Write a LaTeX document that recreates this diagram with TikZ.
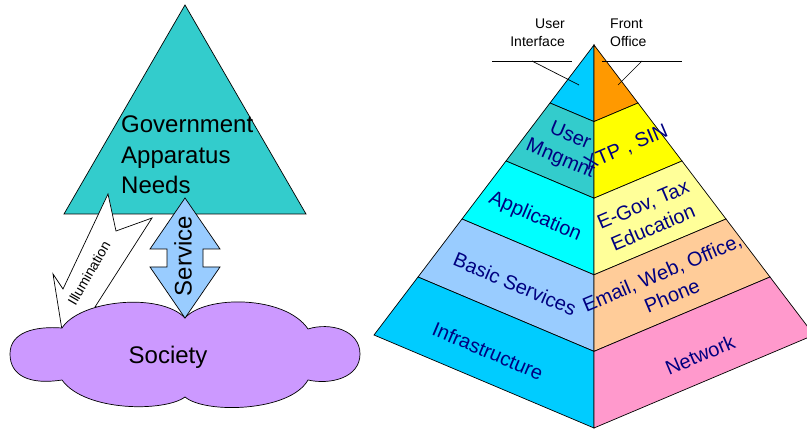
\documentclass[tikz,border=0pt]{standalone}
\usepackage{fontspec}
\setmainfont{Liberation Sans}
\definecolor{tealc}{HTML}{33CCCC}
\definecolor{servc}{HTML}{99CCFF}
\definecolor{lavc}{HTML}{CC99FF}
\definecolor{skyc}{HTML}{00CCFF}
\definecolor{cyanc}{HTML}{00FFFF}
\definecolor{orangec}{HTML}{FF9900}
\definecolor{yellowc}{HTML}{FFFF00}
\definecolor{lyellowc}{HTML}{FFFF99}
\definecolor{peachc}{HTML}{FFCC99}
\definecolor{pinkc}{HTML}{FF99CC}
\definecolor{navyc}{HTML}{000080}
\begin{document}
\begin{tikzpicture}[x=1pt,y=-1pt,
  outl/.style={draw=black, line width=0.7pt, line join=miter},
  bigtxt/.style={font=\fontsize{24}{29}\selectfont, inner sep=0pt},
  layertxt/.style={font=\fontsize{20}{25}\selectfont, text=navyc, align=center, inner sep=0pt},
  smalltxt/.style={font=\fontsize{14}{17}\selectfont, inner sep=0pt},
  callout/.style={draw=black, line width=0.7pt}]
\useasboundingbox (0,0) rectangle (807,430);

% ---------------- left part ----------------
\coordinate (tA) at (185,5);
\coordinate (tB) at (306,214);
\coordinate (tC) at (64,214);
\filldraw[outl, fill=tealc] (tA) -- (tB) -- (tC) -- cycle;
\node[bigtxt, anchor=base west] (gov1) at (121,133) {Government};
\node[bigtxt, anchor=base west] (gov2) at (121,163.5) {Apparatus};
\node[bigtxt, anchor=base west] (gov3) at (121,193.5) {Needs};

% Illumination arrow
\filldraw[outl, fill=white] (108,194) -- (116,231) -- (152,218) -- (95,307) -- (113,308)
  -- (62,330) -- (53,274) -- (63,289) -- cycle;
\node[smalltxt, rotate=60] (illum) at (89,273) {Illumination};

% Society cloud
\filldraw[outl, fill=lavc]
  (62,380) .. controls (30,385) and (10,376) .. (10,354)
  .. controls (10,332) and (35,326) .. (62,328)
  .. controls (80,300) and (160,292) .. (185,318)
  .. controls (205,295) and (285,295) .. (308,329)
  .. controls (330,322) and (360,330) .. (360,354)
  .. controls (360,378) and (330,385) .. (308,380)
  .. controls (290,412) and (205,414) .. (185,397)
  .. controls (165,412) and (85,412) .. (62,380) -- cycle;
\node[bigtxt, anchor=base] (society) at (168,364) {Society};

% Service double arrow
\filldraw[outl, fill=servc] (185,198) -- (220,249) -- (203,249) -- (203,267) -- (220,267)
  -- (185,318) -- (150,267) -- (167,267) -- (167,249) -- (150,249) -- cycle;
\node[bigtxt, rotate=90] (service) at (183,256) {Service};

% ---------------- pyramid ----------------
\coordinate (A) at (594,45);
\coordinate (L1) at (550,103);  \coordinate (C1) at (594,121.6); \coordinate (R1) at (638,103);
\coordinate (L2) at (506,161);  \coordinate (C2) at (594,198.2); \coordinate (R2) at (682,161);
\coordinate (L3) at (462,219);  \coordinate (C3) at (594,274.8); \coordinate (R3) at (726,219);
\coordinate (L4) at (418,277);  \coordinate (C4) at (594,351.4); \coordinate (R4) at (770,277);
\coordinate (L5) at (374,335);  \coordinate (C5) at (594,428);   \coordinate (R5) at (814,335);

\filldraw[outl, fill=skyc] (A) -- (L1) -- (C1) -- cycle;
\filldraw[outl, fill=tealc] (L1) -- (L2) -- (C2) -- (C1) -- cycle;
\filldraw[outl, fill=cyanc] (L2) -- (L3) -- (C3) -- (C2) -- cycle;
\filldraw[outl, fill=servc] (L3) -- (L4) -- (C4) -- (C3) -- cycle;
\filldraw[outl, fill=skyc] (L4) -- (L5) -- (C5) -- (C4) -- cycle;

\filldraw[outl, fill=orangec] (A) -- (R1) -- (C1) -- cycle;
\filldraw[outl, fill=yellowc] (R1) -- (R2) -- (C2) -- (C1) -- cycle;
\filldraw[outl, fill=lyellowc] (R2) -- (R3) -- (C3) -- (C2) -- cycle;
\filldraw[outl, fill=peachc] (R3) -- (R4) -- (C4) -- (C3) -- cycle;
\filldraw[outl, fill=pinkc] (R4) -- (R5) -- (C5) -- (C4) -- cycle;

\node[layertxt, rotate=-23] (usermg) at (565,148) {User\\Mngmnt};
\node[layertxt, rotate=23] (xtp) at (626,148) {XTP , SIN};
\node[layertxt, rotate=-23] (appl) at (535,217) {Application};
\node[layertxt, rotate=23] (egov) at (648,216) {E-Gov, Tax\\Education};
\node[layertxt, rotate=-23] (basic) at (515,284) {Basic Services};
\node[layertxt, rotate=23] (email) at (667,284) {Email, Web, Office,\\Phone};
\node[layertxt, rotate=-23] (infra) at (488,351) {Infrastructure};
\node[layertxt, rotate=23] (netw) at (700,355) {Network};

% top labels and callouts
\node[smalltxt, anchor=base east] (ui1) at (565,29) {User};
\node[smalltxt, anchor=base east] (ui2) at (565,47) {Interface};
\node[smalltxt, anchor=base west] (fo1) at (610,29) {Front};
\node[smalltxt, anchor=base west] (fo2) at (610,47) {Office};

\coordinate (uiL) at (492,61); \coordinate (uiR) at (572,61);
\coordinate (uiK) at (532,61); \coordinate (uiE) at (579,85);
\coordinate (foL) at (602,61); \coordinate (foR) at (682,61);
\coordinate (foK) at (642,61); \coordinate (foE) at (618,85);
\draw[callout] (uiL) -- (uiR);
\draw[callout] (uiK) -- (uiE);
\draw[callout] (foL) -- (foR);
\draw[callout] (foK) -- (foE);
\end{tikzpicture}
\end{document}
